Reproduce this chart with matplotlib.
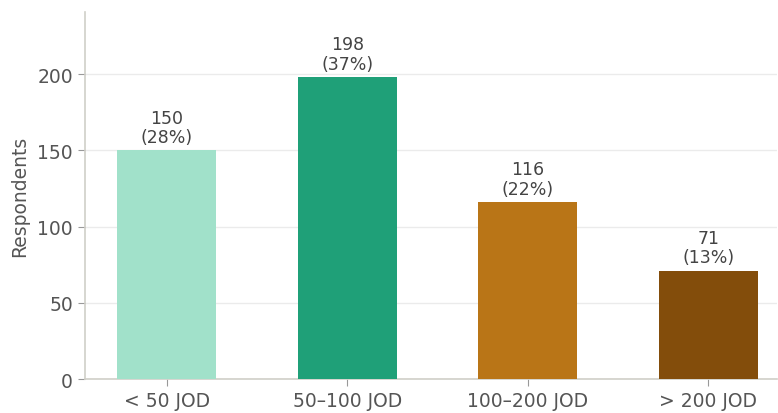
import matplotlib
matplotlib.use("Agg")
import matplotlib.pyplot as plt

# ── 数据 ──────────────────────────────────────────
categories = ["< 50 JOD", "50–100 JOD", "100–200 JOD", "> 200 JOD"]
counts = [150, 198, 116, 71]
shares = [28, 37, 22, 13]
colors = ["#a1e1ca", "#1fa078", "#b97517", "#834d0b"]

plt.rcParams['font.family'] = ['DejaVu Sans']

fig = plt.figure(figsize=(7.78, 4.14), dpi=100)
ax = fig.add_axes([0.109, 0.082, 0.89, 0.887])

x = range(len(categories))
bars = ax.bar(x, counts, width=0.55, color=colors, zorder=3)

for b, c, s in zip(bars, counts, shares):
    ax.text(b.get_x() + b.get_width() / 2, c + 3, f"{c}\n({s}%)",
            ha='center', va='bottom', fontsize=12.5, color='#444444',
            linespacing=1.1)

ax.set_xticks(list(x))
ax.set_xticklabels(categories)
ax.set_xlim(-0.454, 3.382)
ax.set_ylim(0, 241)
ax.set_yticks([0, 50, 100, 150, 200])
ax.set_ylabel("Respondents", fontsize=13.5, color='#555555', labelpad=6)

ax.grid(axis='y', color='#ebebeb', linewidth=1, zorder=0)
ax.tick_params(axis='both', labelsize=13.5, colors='#555555', length=5)
ax.tick_params(axis='both', labelcolor='#555555', color='#999999')
for side in ['top', 'right']:
    ax.spines[side].set_visible(False)
for side in ['left', 'bottom']:
    ax.spines[side].set_color('#d0cfc8')
    ax.spines[side].set_linewidth(1.2)

fig.savefig("out.png", dpi=100)
